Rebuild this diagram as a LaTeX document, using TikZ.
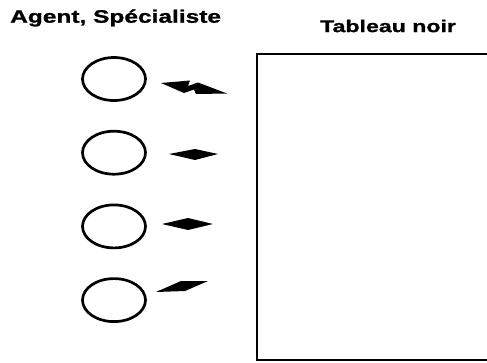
\documentclass[tikz,border=0pt]{standalone}
\usepackage{fontspec}
\setmainfont{Liberation Sans}
\newfontfamily\lblfont[FakeStretch=1.36,FakeBold=1.2]{Liberation Sans}
\usetikzlibrary{positioning,shapes.geometric}

\begin{document}
\begin{tikzpicture}[x=1pt,y=-1pt, node distance=28pt,
  every node/.style={font=\fontsize{18}{21}\lblfont\bfseries},
  ag/.style={draw,ellipse,line width=2.7pt,minimum width=63pt,minimum height=43pt,inner sep=0pt},
  fl/.style={fill=black}]
  \useasboundingbox (0,0) rectangle (487,362);
  \node[anchor=west,inner sep=0pt] (tag) at (10,18) {Agent, Spécialiste};
  \node[anchor=west,inner sep=0pt,font=\fontsize{17}{20}\lblfont\bfseries] (ttab) at (320,26) {Tableau noir};
  \node[ag] (a1) at (114,79) {};
  \node[ag,below=of a1] (a2) {};
  \node[ag,below=of a2] (a3) {};
  \node[ag,below=of a3] (a4) {};
  % tableau noir (coupe a droite)
  \begin{scope}
    \clip (0,0) rectangle (487,362);
    \draw[line width=2.2pt] (495,54) -- (257,54) -- (257,360) -- (495,360);
  \end{scope}
  % fleches
  \fill[fl] (161,83) -- (190,80.5) -- (188,86) -- (198,82.5) -- (227,93.5) -- (196,94)
    -- (194,89.5) -- (184,93) -- cycle;
  \fill[fl] (169,154) -- (195,149) -- (218,154) -- (195,160) -- cycle;
  \fill[fl] (162,224) -- (188,218) -- (213,224) -- (188,230) -- cycle;
  \fill[fl] (156,292) -- (181,281) -- (208,281) -- (185,291) -- cycle;
\end{tikzpicture}
\end{document}
